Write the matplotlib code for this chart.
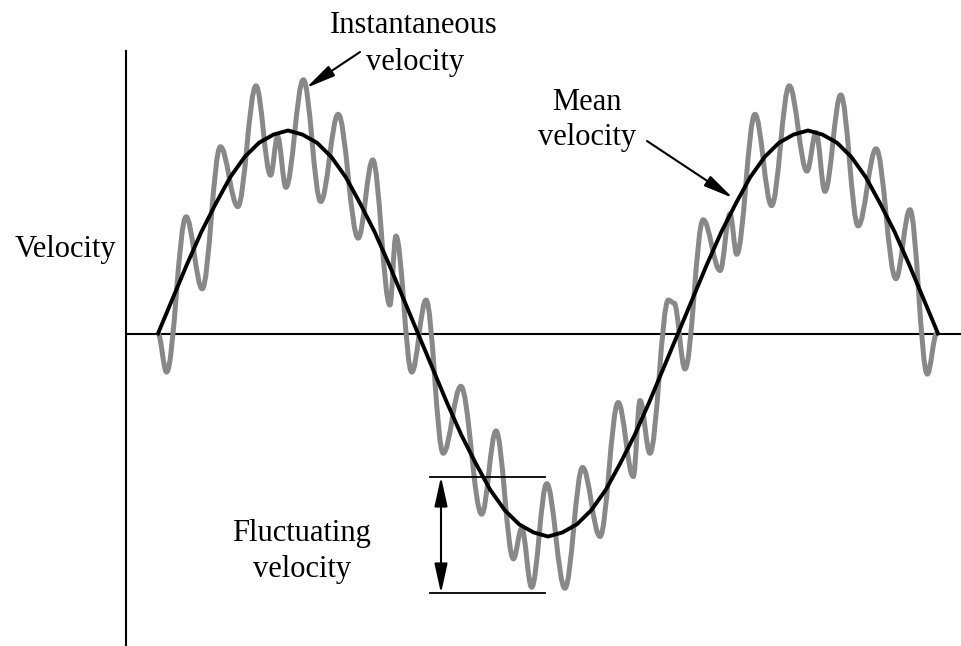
import matplotlib

matplotlib.use("Agg")
import matplotlib.pyplot as plt
import numpy as np
from matplotlib.patches import PathPatch
from matplotlib.path import Path

plt.rcParams["font.family"] = ["Liberation Serif", "DejaVu Serif"]

COLOR_MEAN = "#000000"
COLOR_INST = "#888888"

# mean velocity, read every 10 degrees over one and a half periods
mean_time = np.linspace(0, 30, 55)
mean_velocity = [
    0.0, 0.17, 0.34, 0.5, 0.64, 0.77, 0.87, 0.94, 0.98, 1.0, 0.98, 0.94, 0.87, 0.77, 0.64, 0.5, 0.34, 0.17,
    0.0, -0.17, -0.34, -0.5, -0.64, -0.77, -0.87, -0.94, -0.98, -1.0, -0.98, -0.94, -0.87, -0.77, -0.64, -0.5, -0.34, -0.17,
    0.0, 0.17, 0.34, 0.5, 0.64, 0.77, 0.87, 0.94, 0.98, 1.0, 0.98, 0.94, 0.87, 0.77, 0.64, 0.5, 0.34, 0.17,
    0.0,
]

# instantaneous velocity, peaks and troughs
inst_time = [
    0.0, 0.33, 1.08, 1.70, 2.40, 3.07, 3.77, 4.33, 4.60, 4.92, 5.59, 6.26,
    6.93, 7.70, 8.26, 8.92, 9.15, 9.76, 10.31, 10.97, 11.65, 12.45, 13.00, 13.67,
    13.99, 14.37, 14.95, 15.65, 16.33, 17.00, 17.70, 18.28, 18.54, 18.92, 19.63, 19.85,
    20.27, 20.97, 21.62, 22.00, 22.26, 22.96, 23.60, 24.28, 24.96, 25.31, 25.65, 26.26,
    26.93, 27.62, 28.38, 28.92, 29.59, 29.95,
]
inst_velocity = [
    0.0, -0.19, 0.575, 0.22, 0.92, 0.625, 1.22, 0.78, 0.97, 0.72, 1.25, 0.65,
    1.08, 0.47, 0.855, 0.14, 0.48, -0.19, 0.165, -0.59, -0.26, -0.89, -0.48, -1.11,
    -0.96, -1.25, -0.74, -1.255, -0.66, -1.0, -0.34, -0.705, -0.33, -0.59, 0.165, 0.15,
    -0.175, 0.56, 0.31, 0.59, 0.39, 1.08, 0.63, 1.22, 0.80, 0.99, 0.70, 1.175,
    0.53, 0.91, 0.27, 0.61, -0.20, 0.0,
]

# pixel layout of the reference -> data units
X0, XSCALE = 158, 26.0
Y0, YSCALE = 333.5, 203.0
W, H = 961, 646


def px(x, y):
    return (x - X0) / XSCALE, (Y0 - y) / YSCALE


def smooth_path(xs, ys, k=0.36):
    # bezier through the turning points, flat at each of them
    verts = [(xs[0], ys[0])]
    codes = [Path.MOVETO]
    for i in range(len(xs) - 1):
        dx = xs[i + 1] - xs[i]
        verts += [(xs[i] + k * dx, ys[i]), (xs[i + 1] - k * dx, ys[i + 1]), (xs[i + 1], ys[i + 1])]
        codes += [Path.CURVE4] * 3
    return Path(verts, codes)


fig = plt.figure(figsize=(W / 100, H / 100), dpi=100)
ax = fig.add_axes([0, 0, 1, 1])
ax.set_xlim(px(0, 0)[0], px(W, 0)[0])
ax.set_ylim(px(0, H)[1], px(0, 0)[1])
ax.axis("off")

# axes
x_axis_t, top_v = px(125.5, 51)
ax.plot([x_axis_t, x_axis_t], [top_v, px(0, H + 5)[1]], color="black", lw=1.5, zorder=1)
ax.plot([x_axis_t, px(W + 5, 0)[0]], [0, 0], color="black", lw=1.5, zorder=1)

ax.add_patch(PathPatch(smooth_path(inst_time, inst_velocity), facecolor="none",
                       edgecolor=COLOR_INST, lw=3.6, joinstyle="round", zorder=2))
ax.plot(mean_time, mean_velocity, color=COLOR_MEAN, lw=2.8, solid_joinstyle="round", zorder=3)

text_kw = dict(fontsize=22, ha="center", va="baseline")
ax.text(*px(414, 33), "Instantaneous", **text_kw)
ax.text(*px(415, 70), "velocity", **text_kw)
ax.text(*px(587, 110.5), "Mean", **text_kw)
ax.text(*px(587, 145), "velocity", **text_kw)
ax.text(*px(65, 257), "Velocity", **text_kw)
ax.text(*px(301.7, 540.5), "Fluctuating", **text_kw)
ax.text(*px(301.7, 577), "velocity", **text_kw)

arrow_kw = dict(arrowstyle="-|>,head_length=1.0,head_width=0.2", mutation_scale=18,
                color="black", lw=1.5, shrinkA=0, shrinkB=0)
ax.annotate("", xy=px(306, 88), xytext=px(360, 52), arrowprops=arrow_kw)
ax.annotate("", xy=px(733, 198), xytext=px(647, 141), arrowprops=arrow_kw)

# fluctuation range bracket
lo_t, top_b = px(430, 476.7)
hi_t, bot_b = px(545, 593.3)
ax.plot([lo_t, hi_t], [top_b, top_b], color="black", lw=1.3)
ax.plot([lo_t, hi_t], [bot_b, bot_b], color="black", lw=1.3)
dbl_kw = dict(arrowstyle="<|-|>,head_length=1.0,head_width=0.22", mutation_scale=18,
              color="black", lw=1.5, shrinkA=0, shrinkB=0)
ax.annotate("", xy=px(441, 593.3), xytext=px(441, 476.7), arrowprops=dbl_kw)

fig.savefig("out.png", dpi=100)
